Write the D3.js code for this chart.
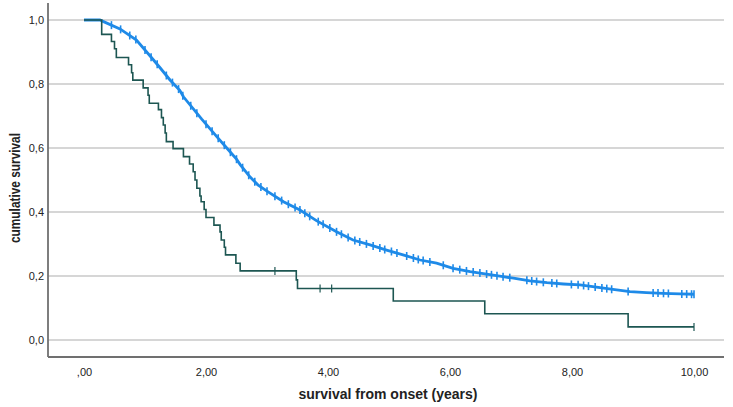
<!DOCTYPE html>
<html>
<head>
<meta charset="utf-8">
<script src="https://cdn.jsdelivr.net/npm/d3@7/dist/d3.min.js"></script>
<style>
  html, body { margin: 0; padding: 0; background: #ffffff; }
  svg { display: block; }
  text { font-family: "Liberation Sans", Arial, sans-serif; fill: #222; }
</style>
</head>
<body>
<svg id="chart" width="733" height="407"></svg>
<script>
// ---- data ----
const xTicks = [0, 2, 4, 6, 8, 10];
const xTickLabels = [",00", "2,00", "4,00", "6,00", "8,00", "10,00"];
const yTicks = [0, 0.2, 0.4, 0.6, 0.8, 1.0];
const yTickLabels = ["0,0", "0,2", "0,4", "0,6", "0,8", "1,0"];

// group 1 (dark, small group): step times and survival after each event
const darkTimes = [0, 0.29, 0.45, 0.50, 0.53, 0.73, 0.78, 0.80, 0.97, 1.05, 1.07, 1.22, 1.27, 1.30, 1.33, 1.35,
  1.46, 1.63, 1.73, 1.79, 1.82, 1.85, 1.90, 1.92, 1.97, 2.00, 2.13, 2.23, 2.25, 2.30, 2.32, 2.49, 2.56,
  3.48, 3.50, 5.07, 6.57, 8.92, 10.0];
const darkSurv = [1.0, 0.955, 0.933, 0.91, 0.883, 0.86, 0.835, 0.812, 0.788, 0.765, 0.74, 0.72, 0.695, 0.672, 0.647, 0.62,
  0.598, 0.573, 0.55, 0.526, 0.50, 0.474, 0.45, 0.432, 0.408, 0.383, 0.359, 0.338, 0.3125, 0.29, 0.266, 0.24, 0.216,
  0.188, 0.161, 0.122, 0.082, 0.041, 0.041];
const darkCensored = [3.13, 3.87, 4.06, 10.0];

// group 2 (blue, large group)
const blueTimes = [0, 0.26, 0.32, 0.59, 0.86, 1.14, 1.25, 1.41, 1.57, 1.63, 1.93, 2.18, 2.34, 2.50, 2.56, 2.72, 2.85,
  3.00, 3.27, 3.54, 3.81, 4.14, 4.41, 4.69, 4.96, 5.23, 5.51, 5.78, 6.05, 6.33, 6.60, 6.87, 7.04, 7.31, 7.59,
  7.86, 8.13, 8.40, 8.67, 8.95, 9.22, 9.49, 9.77, 10.0];
const blueSurv = [1.0, 1.0, 0.995, 0.972, 0.9375, 0.875, 0.85, 0.8125, 0.78, 0.76, 0.69, 0.635, 0.60, 0.565, 0.548, 0.51, 0.485,
  0.465, 0.432, 0.406, 0.373, 0.338, 0.3125, 0.297, 0.281, 0.266, 0.25, 0.24, 0.224, 0.2135, 0.206, 0.198, 0.193, 0.185, 0.179,
  0.175, 0.172, 0.165, 0.158, 0.151, 0.148, 0.146, 0.144, 0.143];
const blueCensored = [0.45, 0.6, 0.75, 0.85, 1.0, 1.1, 1.2, 1.35, 1.45, 1.55, 1.62, 1.75, 1.85, 2.0, 2.1, 2.2, 2.3, 2.4,
  2.5, 2.6, 2.7, 2.8, 2.9, 3.0, 3.13, 3.24, 3.35, 3.46, 3.54, 3.62, 3.70, 3.84, 3.92, 4.03, 4.14, 4.22, 4.33, 4.44,
  4.52, 4.63, 4.74, 4.85, 4.93, 5.04, 5.13, 5.29, 5.40, 5.48, 5.56, 5.67, 5.89, 6.05, 6.16, 6.27, 6.38, 6.49, 6.60,
  6.68, 6.77, 6.87, 6.98, 7.26, 7.34, 7.42, 7.53, 7.67, 7.75, 7.99, 8.10, 8.19, 8.27, 8.38, 8.49, 8.57, 8.65, 8.92,
  9.33, 9.41, 9.50, 9.58, 9.80, 9.88, 9.96, 10.0];

const xTitle = "survival from onset (years)";
const yTitle = "cumulative survival";

// ---- drawing ----
const svg = d3.select("#chart");
const x = d3.scaleLinear().domain([0, 10]).range([84, 694]);
const y = d3.scaleLinear().domain([0, 1]).range([340, 20]);
const plotLeft = 48, plotRight = 724, axisY = 357, axisTop = 3;

// grid lines
svg.append("g").selectAll("line").data(yTicks).join("line")
  .attr("x1", plotLeft).attr("x2", plotRight)
  .attr("y1", d => y(d)).attr("y2", d => y(d))
  .attr("stroke", "#c9c9c9").attr("stroke-width", 1.5);

// axes
const yAxis = d3.axisLeft(y).tickValues(yTicks).tickSize(0).tickPadding(0)
  .tickFormat((d, i) => yTickLabels[i]);
const gy = svg.append("g").attr("transform", `translate(${plotLeft - 4},0)`).call(yAxis);
gy.select(".domain").remove();
gy.selectAll("text").attr("font-size", 11).attr("fill", "#222")
  .style("font-family", "'Liberation Sans', Arial, sans-serif");

const xAxis = d3.axisBottom(x).tickValues(xTicks).tickSize(0).tickPadding(0)
  .tickFormat((d, i) => xTickLabels[i]);
const gx = svg.append("g").attr("transform", `translate(0,${axisY + 11})`).call(xAxis);
gx.select(".domain").remove();
gx.selectAll("text").attr("font-size", 11).attr("fill", "#222")
  .style("font-family", "'Liberation Sans', Arial, sans-serif");

svg.append("line").attr("x1", plotLeft).attr("x2", plotLeft).attr("y1", axisTop).attr("y2", axisY)
  .attr("stroke", "#707070").attr("stroke-width", 1.8);
svg.append("line").attr("x1", plotLeft).attr("x2", plotRight).attr("y1", axisY).attr("y2", axisY)
  .attr("stroke", "#707070").attr("stroke-width", 1.8);

// titles
svg.append("text").attr("x", 388).attr("y", 399).attr("text-anchor", "middle")
  .attr("font-size", 14).attr("font-weight", "bold").attr("fill", "#1a1a1a").text(xTitle);
svg.append("text").attr("transform", "translate(20,188) rotate(-90)").attr("text-anchor", "middle")
  .attr("font-size", 14).attr("font-weight", "bold").attr("fill", "#1a1a1a")
  .attr("textLength", 110).attr("lengthAdjust", "spacingAndGlyphs").text(yTitle);

// curves
const darkData = darkTimes.map((t, i) => [t, darkSurv[i]]);
const blueData = blueTimes.map((t, i) => [t, blueSurv[i]]);
const stepLine = d3.line().x(d => x(d[0])).y(d => y(d[1])).curve(d3.curveStepAfter);
const smoothLine = d3.line().x(d => x(d[0])).y(d => y(d[1])).curve(d3.curveLinear);

const darkColor = "#1d5652";
const blueColor = "#1e8ae8";

function survAt(times, surv, t, step) {
  let i = d3.bisectRight(times, t) - 1;
  if (i < 0) i = 0;
  if (step || i >= times.length - 1) return surv[i];
  const f = (t - times[i]) / (times[i + 1] - times[i]);
  return surv[i] + f * (surv[i + 1] - surv[i]);
}

svg.append("path").datum(blueData).attr("d", smoothLine)
  .attr("fill", "none").attr("stroke", blueColor).attr("stroke-width", 2.8);

const bc = svg.append("g");
bc.selectAll("line.v").data(blueCensored).join("line").attr("class", "v")
  .attr("x1", d => x(d)).attr("x2", d => x(d))
  .attr("y1", d => y(survAt(blueTimes, blueSurv, d, false)) - 4)
  .attr("y2", d => y(survAt(blueTimes, blueSurv, d, false)) + 4)
  .attr("stroke", blueColor).attr("stroke-width", 1.6);

svg.append("path").datum(darkData).attr("d", stepLine)
  .attr("fill", "none").attr("stroke", darkColor).attr("stroke-width", 1.6);

// censor marks
svg.append("g").selectAll("line").data(darkCensored).join("line")
  .attr("x1", d => x(d)).attr("x2", d => x(d))
  .attr("y1", d => y(survAt(darkTimes, darkSurv, d, true)) - 4)
  .attr("y2", d => y(survAt(darkTimes, darkSurv, d, true)) + 4)
  .attr("stroke", darkColor).attr("stroke-width", 1.2);
</script>
</body>
</html>
